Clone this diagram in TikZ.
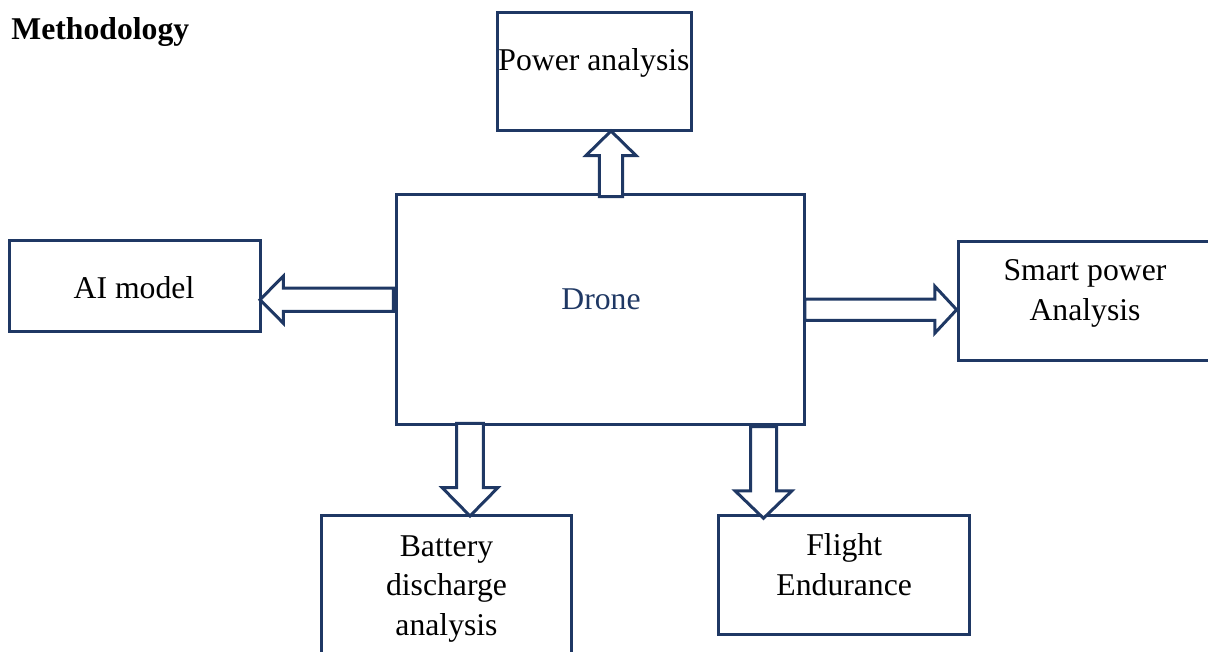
\documentclass[tikz,border=0pt]{standalone}
\usepackage{fontspec}
\setmainfont{Liberation Serif}
\usetikzlibrary{calc}
\definecolor{navy}{RGB}{31,56,100}

% block arrow from #1 to #2: shaft half-width #3, head half-width #4, head length #5 (pt)
\newcommand\blockarrow[5]{%
  \draw[blk] ($(#1)!#3pt!90:(#2)$)
    -- ($(#2)!#5pt!(#1)!#3pt!-90:(#1)$)
    -- ($(#2)!#5pt!(#1)!#4pt!-90:(#1)$)
    -- (#2)
    -- ($(#2)!#5pt!(#1)!#4pt!90:(#1)$)
    -- ($(#2)!#5pt!(#1)!#3pt!90:(#1)$)
    -- ($(#1)!#3pt!-90:(#2)$) -- cycle;}

\begin{document}
\begin{tikzpicture}[x=1pt,y=-1pt,
  box/.style={draw=navy,line width=3pt,rectangle,inner sep=0pt,outer sep=0pt,fill=white},
  blk/.style={draw=navy,line width=3pt,fill=white,line join=miter},
  lbl/.style={font=\fontsize{31.7}{39.5}\selectfont,align=center,inner sep=0pt,anchor=base}]
\useasboundingbox (0,0) rectangle (1208,651);
\clip (0,0) rectangle (1208,651);

% boxes
\node[box,minimum width=194pt,minimum height=118pt] (power) at (594,71) {};
\node[box,minimum width=408.5pt,minimum height=229.8pt] (drone) at (600.7,309.4) {};
\node[box,minimum width=251pt,minimum height=91pt] (ai) at (134.5,285.5) {};
\node[box,minimum width=253.5pt,minimum height=119pt] (smart) at (1085.2,300.5) {};
\node[box,minimum width=250pt,minimum height=200pt] (battery) at (446.5,615.7) {};
\node[box,minimum width=251.5pt,minimum height=119.3pt] (flight) at (844.2,575.3) {};

% arrow end points
\coordinate (upS) at ($(drone.north)+(10.3,2)$);
\coordinate (upT) at ($(power.south)+(17,1)$);
\coordinate (lfS) at ($(drone.west)+(-3.2,-9.7)$);
\coordinate (lfT) at ($(ai.east)+(0,14.2)$);
\coordinate (rtS) at ($(drone.east)+(0,0.3)$);
\coordinate (rtT) at ($(smart.west)+(-1.8,9.2)$);
\coordinate (d1S) at ($(drone.south)+(-130.7,-1)$);
\coordinate (d1T) at ($(battery.north)+(23.5,0.3)$);
\coordinate (d2S) at ($(drone.south)+(162.8,2.4)$);
\coordinate (d2T) at ($(flight.north)+(-80.7,2.6)$);

% block arrows
\blockarrow{upS}{upT}{11.7}{25}{24.5}
\blockarrow{lfS}{lfT}{11.7}{23.5}{23.3}
\blockarrow{rtS}{rtT}{10.7}{23.3}{21.7}
\blockarrow{d1S}{d1T}{13.3}{27.8}{28.3}
\blockarrow{d2S}{d2T}{13}{28.3}{27.3}

% labels (multi-line labels are placed by the baseline of their last line)
\node[lbl,anchor=base west,font=\fontsize{31.7}{39.5}\selectfont\bfseries] (title) at (11.2,39.3) {Methodology};
\node[lbl] (tpower) at (594,70.7) {Power analysis};
\node[lbl] (tai) at (134,298.3) {AI model};
\node[lbl,text=navy] (tdrone) at (601,309.3) {Drone};
\node[lbl] (tsmart) at (1085,320) {Smart power\\Analysis};
\node[lbl] (tbattery) at (446.5,635) {Battery\\discharge\\analysis};
\node[lbl] (tflight) at (844.2,595) {Flight\\Endurance};
\end{tikzpicture}
\end{document}
